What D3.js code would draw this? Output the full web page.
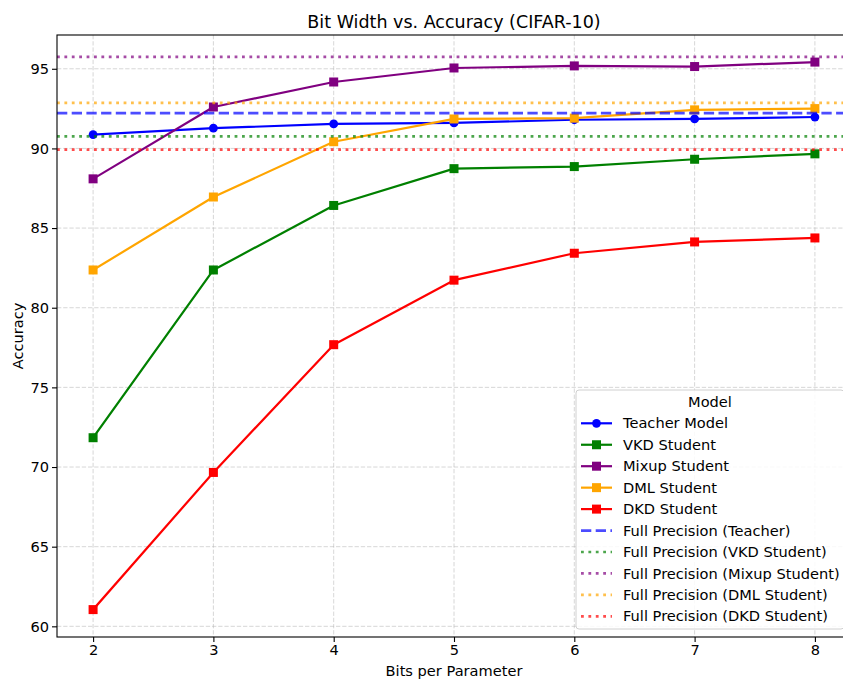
<!DOCTYPE html>
<html>
<head>
<meta charset="utf-8">
<script src="https://cdn.jsdelivr.net/npm/d3@7"></script>
<style>
  html, body { margin: 0; padding: 0; background: #fff; overflow: hidden; }
  svg { display: block; font-family: "DejaVu Sans", sans-serif; }
</style>
</head>
<body>
<svg id="chart" width="843" height="679"></svg>
<script>
// Bit width vs accuracy.
const bits = [2, 3, 4, 5, 6, 7, 8];
const teacher = [90.87, 91.27, 91.54, 91.6, 91.8, 91.85, 91.97];
const vkd = [71.84, 82.37, 86.42, 88.73, 88.86, 89.32, 89.66];
const mixup = [88.09, 92.6, 94.17, 95.05, 95.18, 95.14, 95.42];
const dml = [82.37, 86.95, 90.42, 91.85, 91.9, 92.42, 92.5];
const dkd = [61.05, 69.66, 77.68, 81.73, 83.42, 84.13, 84.38];

const fullPrecision = [
  { label: "Full Precision (Teacher)", value: 92.22, color: "blue", dash: "10.3,4.4" },
  { label: "Full Precision (VKD Student)", value: 90.75, color: "green", dash: "2.8,4.6" },
  { label: "Full Precision (Mixup Student)", value: 95.75, color: "purple", dash: "2.8,4.6" },
  { label: "Full Precision (DML Student)", value: 92.86, color: "orange", dash: "2.8,4.6" },
  { label: "Full Precision (DKD Student)", value: 89.92, color: "red", dash: "2.8,4.6" },
];

const series = [
  { label: "Teacher Model", values: teacher, color: "blue", marker: "circle" },
  { label: "VKD Student", values: vkd, color: "green", marker: "square" },
  { label: "Mixup Student", values: mixup, color: "purple", marker: "square" },
  { label: "DML Student", values: dml, color: "orange", marker: "square" },
  { label: "DKD Student", values: dkd, color: "red", marker: "square" },
];

const yTicks = [60, 65, 70, 75, 80, 85, 90, 95];

const FONT = 14.6;

// ── layout ────────────────────────────────────────────────────────────────
const plot = { left: 57, right: 851, top: 35, bottom: 637 };
const svg = d3.select("#chart");

const x = d3.scaleLinear().domain([1.7, 8.3]).range([plot.left, plot.right]);
const y = d3.scaleLinear().domain([59.33, 97.12]).range([plot.bottom, plot.top]);

svg.append("defs").append("clipPath").attr("id", "plotclip")
  .append("rect")
  .attr("x", plot.left).attr("y", plot.top)
  .attr("width", plot.right - plot.left).attr("height", plot.bottom - plot.top);

// grid
const grid = svg.append("g").attr("stroke", "#b0b0b0").attr("stroke-opacity", 0.6)
  .attr("stroke-width", 0.85).attr("stroke-dasharray", "4.3,1.9");
grid.selectAll("line.gx").data(bits).join("line")
  .attr("x1", d => x(d)).attr("x2", d => x(d))
  .attr("y1", plot.top).attr("y2", plot.bottom);
grid.selectAll("line.gy").data(yTicks).join("line")
  .attr("y1", d => y(d)).attr("y2", d => y(d))
  .attr("x1", plot.left).attr("x2", plot.right);

// series lines + markers
const body = svg.append("g").attr("clip-path", "url(#plotclip)");
const line = d3.line().x((d, i) => x(bits[i])).y(d => y(d));

for (const s of series) {
  body.append("path").datum(s.values)
    .attr("d", line).attr("fill", "none")
    .attr("stroke", s.color).attr("stroke-width", 2.2)
    .attr("stroke-linejoin", "round").attr("stroke-linecap", "square");
  const g = body.append("g").attr("fill", s.color);
  if (s.marker === "circle") {
    g.selectAll("circle").data(s.values).join("circle")
      .attr("cx", (d, i) => x(bits[i])).attr("cy", d => y(d)).attr("r", 4.4);
  } else {
    g.selectAll("rect").data(s.values).join("rect")
      .attr("x", (d, i) => x(bits[i]) - 4.5).attr("y", d => y(d) - 4.5)
      .attr("width", 9).attr("height", 9);
  }
}

// full precision reference lines
for (const fp of fullPrecision) {
  body.append("line")
    .attr("x1", plot.left).attr("x2", plot.right)
    .attr("y1", y(fp.value)).attr("y2", y(fp.value))
    .attr("stroke", fp.color).attr("stroke-opacity", 0.7)
    .attr("stroke-width", 2.7).attr("stroke-dasharray", fp.dash);
}

// axes
const xAxis = svg.append("g").attr("transform", `translate(0,${plot.bottom})`)
  .call(d3.axisBottom(x).tickValues(bits).tickFormat(d3.format("d")).tickSize(5).tickSizeOuter(0));
const yAxis = svg.append("g").attr("transform", `translate(${plot.left},0)`)
  .call(d3.axisLeft(y).tickValues(yTicks).tickFormat(d3.format("d")).tickSize(5).tickSizeOuter(0));
for (const a of [xAxis, yAxis]) {
  a.select(".domain").remove();
  a.selectAll("text").attr("font-size", FONT).attr("fill", "#000")
    .attr("font-family", "DejaVu Sans");
  a.selectAll("line").attr("stroke", "#000").attr("stroke-width", 1.1);
}
xAxis.selectAll("text").attr("dy", "0.71em").attr("y", 8);
yAxis.selectAll("text").attr("x", -8);

// spines
svg.append("rect")
  .attr("x", plot.left).attr("y", plot.top)
  .attr("width", plot.right - plot.left).attr("height", plot.bottom - plot.top)
  .attr("fill", "none").attr("stroke", "#000").attr("stroke-width", 1.1);

// titles
svg.append("text").attr("x", (plot.left + plot.right) / 2).attr("y", 28)
  .attr("text-anchor", "middle").attr("font-size", 17.5)
  .text("Bit Width vs. Accuracy (CIFAR-10)");
svg.append("text").attr("x", (plot.left + plot.right) / 2).attr("y", 676)
  .attr("text-anchor", "middle").attr("font-size", FONT)
  .text("Bits per Parameter");
svg.append("text")
  .attr("transform", `translate(23,${(plot.top + plot.bottom) / 2}) rotate(-90)`)
  .attr("text-anchor", "middle").attr("font-size", FONT)
  .text("Accuracy");

// ── legend ────────────────────────────────────────────────────────────────
const legend = svg.append("g").attr("transform", "translate(576,390)");
legend.append("rect")
  .attr("width", 268).attr("height", 239).attr("rx", 3)
  .attr("fill", "#fff").attr("fill-opacity", 0.85)
  .attr("stroke", "#d0d0d0").attr("stroke-width", 1);
legend.append("text").attr("x", 134).attr("y", 17)
  .attr("text-anchor", "middle").attr("font-size", FONT).text("Model");

const entries = [
  ...series.map(s => ({ label: s.label, color: s.color, marker: s.marker, dash: null, opacity: 1 })),
  ...fullPrecision.map(f => ({ label: f.label, color: f.color, marker: null, dash: f.dash, opacity: 0.7 })),
];
const rowY = i => 33.3 + i * 21.45;
const row = legend.selectAll("g.entry").data(entries).join("g")
  .attr("class", "entry")
  .attr("transform", (d, i) => `translate(0,${rowY(i)})`);
row.append("line").attr("x1", 5).attr("x2", 36)
  .attr("stroke", d => d.color).attr("stroke-opacity", d => d.opacity)
  .attr("stroke-width", d => d.dash ? 2.7 : 2.2)
  .attr("stroke-dasharray", d => d.dash);
row.filter(d => d.marker === "circle").append("circle")
  .attr("cx", 20.5).attr("r", 4.4).attr("fill", d => d.color);
row.filter(d => d.marker === "square").append("rect")
  .attr("x", 16).attr("y", -4.5).attr("width", 9).attr("height", 9)
  .attr("fill", d => d.color);
row.append("text").attr("x", 47).attr("dy", "0.35em")
  .attr("font-size", FONT).text(d => d.label);
</script>
</body>
</html>
